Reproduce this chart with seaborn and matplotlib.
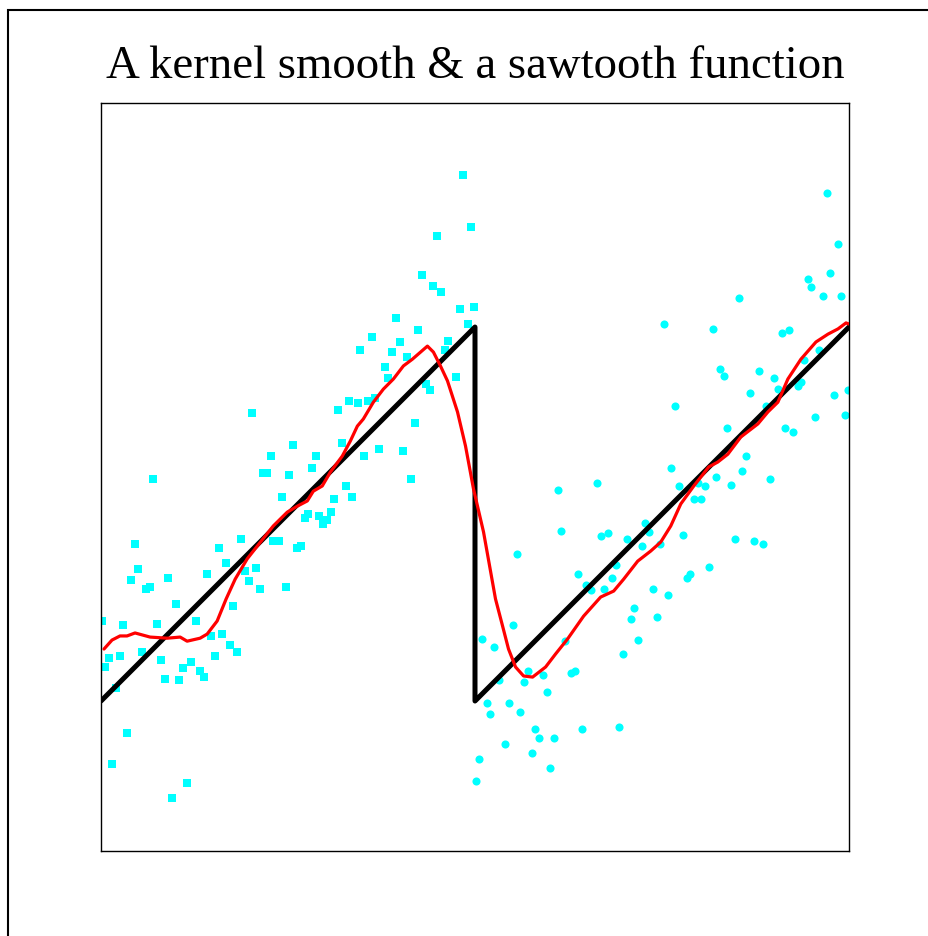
import matplotlib
matplotlib.use("Agg")
import matplotlib.pyplot as plt
from matplotlib.patches import Rectangle
import seaborn as sns

# left half of the noisy sawtooth (squares)
sq_x = [0.4846, 0.4953, 0.4498, 0.4297, 0.4444, 0.4552, 0.4793, 0.4990, 0.3949, 0.3628,
        0.4244, 0.4900, 0.4003, 0.3467, 0.3896, 0.4096, 0.3802, 0.4645, 0.4605, 0.3842,
        0.4752, 0.2021, 0.3173, 0.3320, 0.3226, 0.2570, 0.2276, 0.2878, 0.2825, 0.2169,
        0.2222, 0.2517, 0.0696, 0.3280, 0.2423, 0.3119, 0.2731, 0.2771, 0.2918, 0.3079,
        0.2972, 0.3025, 0.3360, 0.1874, 0.2303, 0.2383, 0.1580, 0.2624, 0.2677, 0.0455,
        0.1673, 0.0495, 0.2075, 0.1928, 0.0402, 0.0897, 0.1419, 0.0602, 0.0656, 0.1981,
        0.2129, 0.2477, 0.4351, 0.4404, 0.3440, 0.3574, 0.3668, 0.4203, 0.3521, 0.3722,
        0.4043, 0.4150, 0.1004, 0.1767, 0.0013, 0.0295, 0.0750, 0.1272, 0.1473, 0.1620,
        0.1727, 0.1821, 0.0107, 0.0254, 0.0549, 0.0803, 0.0054, 0.1205, 0.1098, 0.1325,
        0.1379, 0.1526, 0.0857, 0.1044, 0.0201, 0.0348, 0.0147, 0.1151, 0.0950]
sq_y = [1.4064, 1.2674, 1.2433, 1.1390, 1.1096, 1.0936, 1.0481, 1.0535, 1.0241, 0.9733,
        0.9920, 1.0080, 0.9599, 0.9385, 0.9332, 0.9198, 0.8930, 0.9626, 0.9385, 0.8636,
        0.8663, 0.7701, 0.7781, 0.8021, 0.6898, 0.6845, 0.6551, 0.6551, 0.6230, 0.6096,
        0.6096, 0.6043, 0.5936, 0.5749, 0.5455, 0.5401, 0.4893, 0.5000, 0.4947, 0.5053,
        0.4733, 0.4840, 0.5455, 0.4332, 0.4278, 0.4278, 0.4091, 0.4091, 0.4144, 0.4198,
        0.3690, 0.3529, 0.3556, 0.3476, 0.3235, 0.3289, 0.3396, 0.2995, 0.3048, 0.3209,
        0.2995, 0.3048, 0.8476, 0.8316, 0.7968, 0.8021, 0.8102, 0.7433, 0.6551, 0.6738,
        0.6684, 0.5936, 0.2594, 0.2540, 0.2139, 0.2032, 0.2059, 0.2139, 0.1738, 0.1791,
        0.1497, 0.1310, 0.1150, 0.1203, 0.1310, 0.1096, 0.0909, 0.1043, 0.0882, 0.0802,
        0.0642, 0.1203, 0.0588, 0.0561, 0.0348, -0.0856, -0.1684, -0.2193, -0.2594]

# right half (circles)
ci_x = [0.9706, 0.9853, 0.9451, 0.9491, 0.9746, 0.9652, 0.9893, 0.8527, 0.7523, 0.8179,
        0.9103, 0.9197, 0.9598, 0.9398, 0.8273, 0.8327, 0.8795, 0.8996, 0.9049, 0.9317,
        0.9357, 0.8675, 0.9799, 0.9987, 0.7671, 0.8889, 0.9545, 0.9946, 0.9143, 0.9250,
        0.8367, 0.8621, 0.7617, 0.8568, 0.8220, 0.8942, 0.7724, 0.7979, 0.8072, 0.8420,
        0.7925, 0.8019, 0.7269, 0.7323, 0.6774, 0.6680, 0.7028, 0.7778, 0.7229, 0.7470,
        0.8474, 0.8728, 0.8849, 0.6881, 0.8126, 0.7831, 0.7871, 0.6827, 0.6720, 0.7376,
        0.7577, 0.6627, 0.6104, 0.6145, 0.5556, 0.6372, 0.6479, 0.6546, 0.5502, 0.5100,
        0.5248, 0.6198, 0.5703, 0.5315, 0.5904, 0.5649, 0.6278, 0.6332, 0.5957, 0.5154,
        0.5448, 0.5207, 0.5596, 0.5797, 0.6426, 0.5850, 0.6051, 0.5395, 0.5756, 0.5047,
        0.5997, 0.5010, 0.7122, 0.7082, 0.7430, 0.7175, 0.6975, 0.6921]
ci_y = [1.3583, 1.2219, 1.1283, 1.1070, 1.1444, 1.0829, 1.0829, 1.0775, 1.0080, 0.9947,
        0.9840, 0.9920, 0.9385, 0.9118, 0.8877, 0.8690, 0.8824, 0.8636, 0.8342, 0.8422,
        0.8529, 0.8235, 0.8182, 0.8316, 0.7888, 0.7888, 0.7594, 0.7647, 0.7299, 0.7193,
        0.7299, 0.6551, 0.6230, 0.6150, 0.5989, 0.5936, 0.5749, 0.5829, 0.5749, 0.5775,
        0.5401, 0.5401, 0.4759, 0.4519, 0.4492, 0.4412, 0.4332, 0.4439, 0.4144, 0.4198,
        0.4332, 0.4278, 0.4198, 0.3636, 0.3583, 0.3289, 0.3396, 0.3289, 0.2995, 0.2995,
        0.2834, 0.5829, 0.5642, 0.4545, 0.3930, 0.3396, 0.3102, 0.2968, 0.2032, 0.1658,
        0.1444, 0.1604, 0.0802, 0.0561, 0.0695, 0.0508, 0.0749, 0.0802, 0.0241, -0.0053,
        -0.0053, -0.0348, -0.0294, -0.0749, -0.0749, -0.0989, -0.0989, -0.1150, -0.1390, -0.1551,
        -0.1791, -0.2139, 0.2487, 0.2193, 0.2246, 0.1631, 0.1257, -0.0695]

# the true sawtooth
saw_x = [0.0, 0.5, 0.5, 1.0]
saw_y = [0.0, 1.0, 0.0, 1.0]

# kernel smooth
ks_x = [0.004, 0.0147, 0.0254, 0.0348, 0.0455, 0.0656, 0.0884, 0.1058, 0.1151, 0.1325,
        0.1419, 0.1553, 0.1673, 0.1794, 0.1954, 0.2088, 0.2303, 0.2490, 0.2624, 0.2758,
        0.2838, 0.2958, 0.3066, 0.3226, 0.3333, 0.3427, 0.3507, 0.3641, 0.3775, 0.3909,
        0.4043, 0.4163, 0.4364, 0.4444, 0.4538, 0.4632, 0.4766, 0.4873, 0.4980, 0.5114,
        0.5274, 0.5368, 0.5448, 0.5542, 0.5649, 0.5770, 0.5944, 0.6078, 0.6238, 0.6452,
        0.6680, 0.6854, 0.6988, 0.7175, 0.7349, 0.7483, 0.7617, 0.7751, 0.7925, 0.8126,
        0.8246, 0.8380, 0.8554, 0.8782, 0.8916, 0.9049, 0.9183, 0.9357, 0.9558, 0.9719,
        0.9853, 0.9960, 1.0]
ks_y = [0.139, 0.163, 0.174, 0.174, 0.182, 0.171, 0.168, 0.171, 0.160, 0.168,
        0.179, 0.214, 0.273, 0.326, 0.380, 0.414, 0.468, 0.505, 0.521, 0.535,
        0.561, 0.575, 0.612, 0.655, 0.695, 0.735, 0.754, 0.799, 0.834, 0.861,
        0.896, 0.914, 0.949, 0.933, 0.896, 0.856, 0.773, 0.682, 0.567, 0.452,
        0.273, 0.201, 0.139, 0.091, 0.067, 0.064, 0.091, 0.126, 0.166, 0.227,
        0.278, 0.294, 0.326, 0.374, 0.401, 0.425, 0.468, 0.527, 0.575, 0.626,
        0.639, 0.660, 0.706, 0.741, 0.773, 0.799, 0.861, 0.914, 0.960, 0.981,
        0.995, 1.011, 1.008]

sns.set_style("white")
plt.rcParams['font.family'] = ['Liberation Serif', 'DejaVu Serif']

fig = plt.figure(figsize=(9.29, 9.37), dpi=100)
ax = fig.add_axes([101 / 929, 1 - 852 / 937, 748 / 929, 748 / 937])

sns.scatterplot(x=sq_x, y=sq_y, marker='s', s=40, color='#00ffff',
                linewidth=0, ax=ax, zorder=2)
sns.scatterplot(x=ci_x, y=ci_y, marker='o', s=34, color='#00ffff',
                linewidth=0, ax=ax, zorder=2)
sns.lineplot(x=saw_x, y=saw_y, sort=False, estimator=None, color='black',
             linewidth=3.6, ax=ax, zorder=3)
sns.lineplot(x=ks_x, y=ks_y, sort=False, estimator=None, color='red',
             linewidth=2.3, ax=ax, zorder=4)

ax.set_xlim(0, 1)
ax.set_ylim(-0.401, 1.599)
ax.set_xticks([])
ax.set_yticks([])
for sp in ax.spines.values():
    sp.set_visible(True)
    sp.set_color('black')
    sp.set_linewidth(1.0)

fig.text(475 / 929, 1 - 78 / 937, 'A kernel smooth & a sawtooth function',
         ha='center', va='baseline', fontsize=33.7, color='black')

# outer frame, runs off the right and bottom of the picture
fig.patches.append(Rectangle((8 / 929, -0.1), 1.2, 1 - 11 / 937 + 0.1,
                             transform=fig.transFigure, fill=False,
                             edgecolor='black', linewidth=1.5))

fig.savefig('out.png', dpi=100)
